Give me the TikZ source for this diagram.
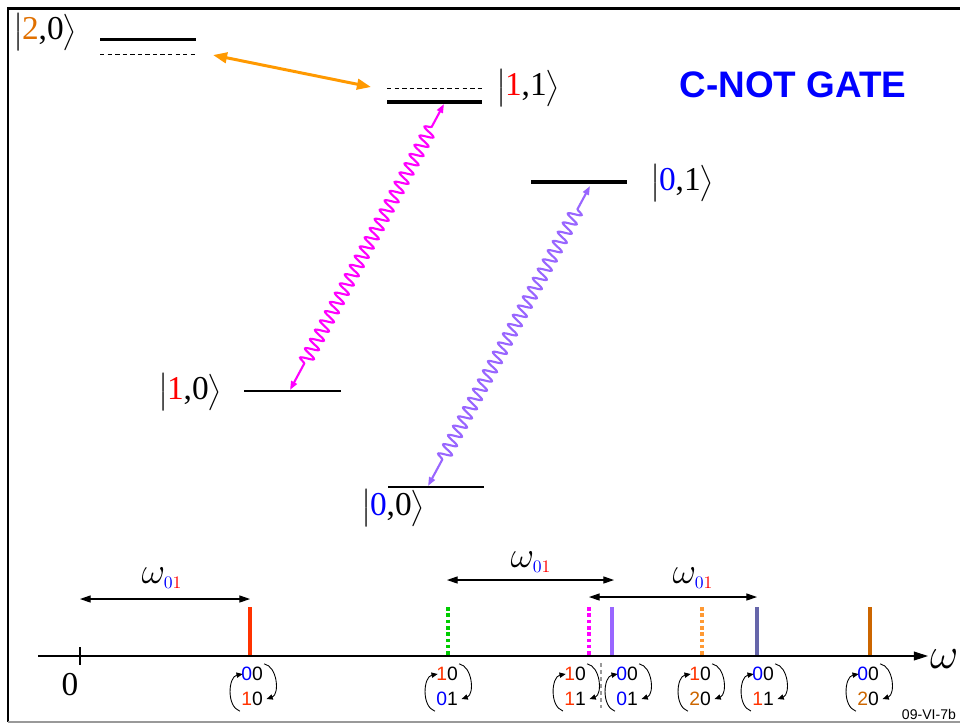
\documentclass[tikz,border=0pt]{standalone}
\usepackage{amsmath}
\usepackage{fontspec}
\setmainfont{Liberation Serif}
\setsansfont{Liberation Sans}
\usepackage{xcolor}
\usepackage{tikz}
\usetikzlibrary{positioning, arrows.meta, decorations.pathmorphing}
\definecolor{ketred}{HTML}{FF0000}
\definecolor{ketblue}{HTML}{0000FF}
\definecolor{ketorange}{HTML}{E07000}
\definecolor{digitred}{HTML}{FF3300}
\definecolor{digitbrown}{HTML}{CC6600}
\definecolor{pumporange}{HTML}{FF9900}
\definecolor{wavemagenta}{HTML}{FF00FF}
\definecolor{wavepurple}{HTML}{9966FF}
\definecolor{lineslate}{HTML}{6666AA}
\definecolor{linegreen}{HTML}{00CC00}
\definecolor{lineorange}{HTML}{FF9933}
\definecolor{framegray}{HTML}{999999}

\newcommand{\statket}[2]{$\bigl|\mkern-1mu\mbox{#1,#2}\mkern-1mu\bigr\rangle$}
\newcommand{\wzero}{$\omega_{\scriptscriptstyle{\color{ketblue}0}{\color{ketred}1}}$}
\newcommand{\bl}[1]{\textcolor{ketblue}{#1}}
\newcommand{\rd}[1]{\textcolor{digitred}{#1}}
\newcommand{\br}[1]{\textcolor{digitbrown}{#1}}

% upper and lower pair of states under a line, swapped by two bent arrows
\newcommand{\statepair}[4]{%
    \node[pairtext] (#1up) at (#2,674) {#3};
    \node[pairtext] (#1lo) at (#2,699) {#4};
    \draw[swaparrow] ([shift={(-1,5)}]#1lo.south west) to[bend left=75] ([xshift=1]#1up.west);
    \draw[swaparrow] ([shift={(1,-3)}]#1up.north east) to[bend left=75] ([xshift=2]#1lo.east);
}

\begin{document}
\begin{tikzpicture}[x=0.02cm, y=-0.02cm,
    ketfont/.style={font=\fontsize{19}{23}\selectfont, inner sep=0pt},
    pairtext/.style={font=\sffamily\fontsize{11}{12}\selectfont, inner sep=0pt},
    swaparrow/.style={-{Triangle[length=3.5pt, width=3pt]}, line width=0.5pt},
    thinlevel/.style={line width=0.75pt},
    thicklevel/.style={line width=2.8pt},
    ghostlevel/.style={line width=0.5pt, dash pattern=on 2.5pt off 1.8pt},
    wave/.style={{Triangle[length=5pt, width=3.6pt]}-{Triangle[length=5pt, width=3.6pt]},
        line width=1.2pt, decorate,
        decoration={snake, segment length=0.21cm, amplitude=0.13cm,
            pre length=0.6cm, post length=0.5cm}},
    specline/.style={line width=2pt},
    dotline/.style={line width=2pt, dash pattern=on 2pt off 1.6pt},
    freqarrow/.style={{Triangle[length=6pt, width=4pt]}-{Triangle[length=6pt, width=4pt]},
        line width=0.6pt}]
    \useasboundingbox (0,0) rectangle (960,725);

    % frame
    \draw[line width=1.7pt] (8,722) -- (8,8) -- (960,8);
    \draw[framegray, line width=0.8pt] (8,722) -- (960,722);

    % levels
    \coordinate (l20a) at (100,39);  \coordinate (l20b) at (196,39);
    \coordinate (d20a) at (100,54);  \coordinate (d20b) at (196,54);
    \coordinate (l11a) at (387,102); \coordinate (l11b) at (482,102);
    \coordinate (d11a) at (387,88);  \coordinate (d11b) at (482,88);
    \coordinate (l01a) at (531,182); \coordinate (l01b) at (627,182);
    \coordinate (l10a) at (244,391); \coordinate (l10b) at (341,391);
    \coordinate (l00a) at (388,487); \coordinate (l00b) at (484,487);
    \draw[line width=1.7pt] (l20a) -- (l20b);
    \draw[ghostlevel] (d20a) -- (d20b);
    \draw[thicklevel] (l11a) -- (l11b);
    \draw[ghostlevel] (d11a) -- (d11b);
    \draw[thicklevel] (l01a) -- (l01b);
    \draw[thinlevel] (l10a) -- (l10b);
    \draw[thinlevel] (l00a) -- (l00b);

    \node[ketfont] (k20) at (45,32) {\statket{\textcolor{ketorange}{2}}{0}};
    \node[ketfont] (k11) at (528,88) {\statket{\textcolor{ketred}{1}}{1}};
    \node[ketfont] (k01) at (682,183) {\statket{\textcolor{ketblue}{0}}{1}};
    \node[ketfont] (k10) at (190,392) {\statket{\textcolor{ketred}{1}}{0}};
    \node[ketfont] (k00) at (393,508) {\statket{\textcolor{ketblue}{0}}{0}};

    \node[text=ketblue, font=\sffamily\bfseries\fontsize{21}{24}\selectfont]
        (title) at (793,85) {C-NOT GATE};

    % transitions
    \coordinate (p20) at (213,55);
    \coordinate (p11) at (371,87);
    \draw[pumporange, line width=1.7pt,
        {Triangle[length=8pt, width=6pt]}-{Triangle[length=8pt, width=6pt]}] (p20) -- (p11);
    \coordinate (m10) at (290,390);
    \coordinate (m11) at (444,104);
    \draw[wave, wavemagenta] (m10) -- (m11);
    \coordinate (v00) at (428,486);
    \coordinate (v01) at (590,186);
    \draw[wave, wavepurple] (v00) -- (v01);

    % frequency axis
    \coordinate (ax0) at (38,656);
    \coordinate (ax1) at (928,656);
    \draw[-{Triangle[length=8pt, width=5pt]}, line width=0.6pt] (ax0) -- (ax1);
    \node[font=\fontsize{30}{32}\selectfont, anchor=west, inner sep=1pt] (omega) at ([yshift=-2]ax1) {$\omega$};
    \draw[line width=0.6pt] (80,647) -- (80,665);
    \node[ketfont] (zero) at (70,685) {0};

    \draw[specline, digitred] (250,607) -- (250,655);
    \draw[dotline, linegreen] (448,607) -- (448,655);
    \draw[dotline, wavemagenta] (589,607) -- (589,655);
    \draw[specline, wavepurple] (612,607) -- (612,655);
    \draw[dotline, lineorange] (702,607) -- (702,655);
    \draw[specline, lineslate] (757,607) -- (757,655);
    \draw[specline, digitbrown] (870,607) -- (870,655);

    \coordinate (fa0) at (80,599);  \coordinate (fa1) at (250,599);
    \coordinate (fb0) at (447,580); \coordinate (fb1) at (614,580);
    \coordinate (fc0) at (589,597); \coordinate (fc1) at (757,597);
    \draw[freqarrow] (fa0) -- (fa1);
    \draw[freqarrow] (fb0) -- (fb1);
    \draw[freqarrow] (fc0) -- (fc1);
    \node[font=\fontsize{20}{22}\selectfont] (wa) at (162,578) {\wzero};
    \node[font=\fontsize{20}{22}\selectfont] (wb) at (531,562) {\wzero};
    \node[font=\fontsize{20}{22}\selectfont] (wc) at (693,578) {\wzero};

    \draw[framegray, line width=0.6pt, dash pattern=on 2pt off 2pt] (601,663) -- (601,708);

    \statepair{a}{252}{\bl{0}0}{\rd{1}0}
    \statepair{b}{447}{\rd{1}0}{\bl{0}1}
    \statepair{c}{575}{\rd{1}0}{\rd{1}1}
    \statepair{d}{627}{\bl{0}0}{\bl{0}1}
    \statepair{e}{700}{\rd{1}0}{\br{2}0}
    \statepair{f}{763}{\bl{0}0}{\rd{1}1}
    \statepair{g}{868}{\bl{0}0}{\br{2}0}

    \node[font=\sffamily\fontsize{8}{9}\selectfont, anchor=south east, inner sep=1pt]
        (tag) at (958,722) {09-VI-7b};
\end{tikzpicture}
\end{document}
